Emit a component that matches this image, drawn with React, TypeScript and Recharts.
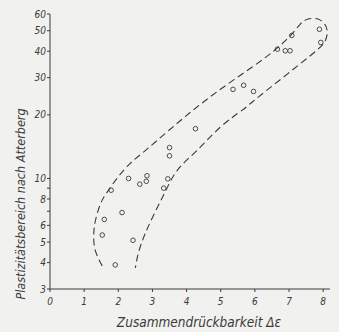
import React from "react";
import { ScatterChart, Scatter, XAxis, YAxis, Label } from "recharts";

// measured points: compressibility Δε vs plasticity range (Atterberg)
const deltaE = [
  1.53, 1.59, 1.79, 1.91, 2.11, 2.3, 2.43, 2.63, 2.82, 2.84, 3.33, 3.45, 3.5, 3.5,
  4.26, 5.36, 5.67, 5.96, 6.66, 6.89, 7.03, 7.08, 7.89, 7.93,
];
const plastic = [
  5.4, 6.4, 8.8, 3.9, 6.9, 10.0, 5.1, 9.4, 9.7, 10.3, 9.0, 9.96, 12.8, 14.0,
  17.2, 26.4, 27.6, 25.8, 40.9, 40.2, 40.2, 47.5, 50.8, 44.0,
];

// dashed envelope, left branch up, round the top, right branch down
const envX = [
  1.53, 1.33, 1.28, 1.33, 1.48, 1.67, 2.0, 2.35, 2.73, 3.52, 4.4, 5.37, 6.36,
  7.03, 7.33, 7.56, 7.85, 8.06, 8.12, 8.06, 7.82, 6.94, 5.95, 5.62, 4.99, 4.31,
  3.76, 3.41, 3.09, 2.79, 2.59, 2.5,
];
const envY = [
  3.86, 4.54, 5.36, 6.31, 7.6, 8.6, 10.2, 11.8, 13.3, 17.1, 22.4, 29.2, 37.9,
  47.2, 53.8, 56.8, 56.8, 53.2, 48.7, 44.7, 40.5, 31.1, 23.2, 21.0, 17.5, 13.6,
  11.1, 8.9, 7.0, 5.5, 4.45, 3.77,
];

const xTicks = [0, 1, 2, 3, 4, 5, 6, 7, 8];
const yTicks = [3, 4, 5, 6, 7, 8, 9, 10, 20, 30, 40, 50, 60];
const yHidden = [7, 9];

const points = deltaE.map((x, i) => ({ x, y: plastic[i] }));
const envelope = envX.map((x, i) => ({ x, y: envY[i] }));

const INK = "#3a3a3a";
const FONT = "'DejaVu Sans Condensed', 'Liberation Sans', sans-serif";

const tickStyle = { fill: INK, fontSize: 10, fontStyle: "italic", fontFamily: FONT };

const Ring = (props: any) => (
  <circle cx={props.cx} cy={props.cy} r={2.3} fill="none" stroke={INK} strokeWidth={0.9} />
);

export default function App() {
  return (
    <div style={{ position: "absolute", left: 0, top: 0, width: 339, height: 332, background: "#f1f1ef" }}>
      <ScatterChart width={339} height={332} margin={{ top: 14, right: 9, bottom: 0, left: 0 }}>
        <XAxis
          type="number"
          dataKey="x"
          domain={[0, 8.2]}
          ticks={xTicks}
          interval={0}
          height={43}
          tickSize={3}
          tickMargin={6}
          stroke={INK}
          tick={tickStyle}
        >
          <Label
            value="Zusammendrückbarkeit Δε"
            position="insideBottom"
            offset={5}
            dx={9}
            style={{ fill: INK, fontSize: 13.5, fontStyle: "italic", fontFamily: FONT }}
          />
        </XAxis>
        <YAxis
          type="number"
          dataKey="y"
          scale="log"
          domain={[3, 60]}
          allowDataOverflow
          ticks={yTicks}
          interval={0}
          width={50}
          tickSize={3}
          tickMargin={1}
          stroke={INK}
          tick={tickStyle}
          tickFormatter={(v: number) => (yHidden.includes(v) ? "" : String(v))}
        >
          <Label
            content={() => (
              <text
                x={21}
                y={204}
                transform="rotate(-90, 21, 204)"
                textAnchor="middle"
                dominantBaseline="middle"
                fill={INK}
                fontSize={12.5}
                fontStyle="italic"
                fontFamily={FONT}
              >
                Plastizitätsbereich nach Atterberg
              </text>
            )}
          />
        </YAxis>
        <Scatter
          data={envelope}
          line={{ stroke: INK, strokeWidth: 1.1, strokeDasharray: "7 4" }}
          lineType="joint"
          lineJointType="natural"
          shape={() => <g />}
          isAnimationActive={false}
        />
        <Scatter data={points} shape={Ring} isAnimationActive={false} />
      </ScatterChart>
    </div>
  );
}
